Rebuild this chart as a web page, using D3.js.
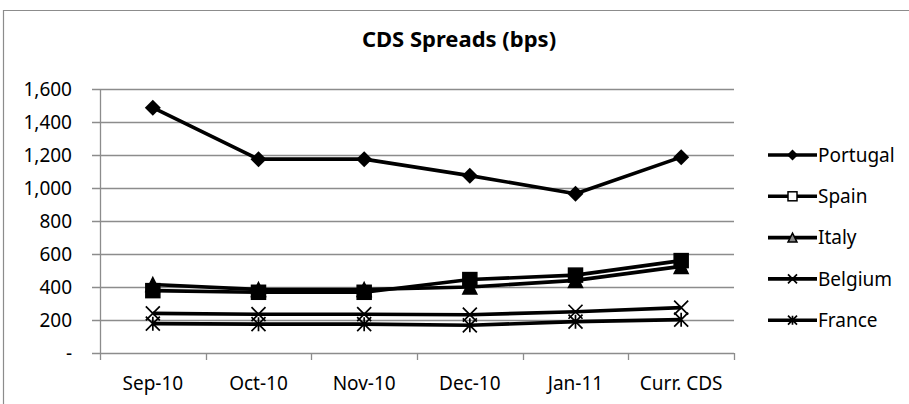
<!DOCTYPE html>
<html>
<head>
<meta charset="utf-8">
<script src="https://cdn.jsdelivr.net/npm/d3@7"></script>
<style>
  body { margin: 0; background: #fff; }
  svg { display: block; font-family: "Noto Sans", sans-serif; }
</style>
</head>
<body>
<svg id="chart" width="909" height="404"></svg>
<script>
// data
var months = ['Sep-10', 'Oct-10', 'Nov-10', 'Dec-10', 'Jan-11', 'Curr. CDS']
var yTicks = [0, 200, 400, 600, 800, 1000, 1200, 1400, 1600]
var countries = ['Portugal', 'Spain', 'Italy', 'Belgium', 'France']
var portugal = [1487, 1175, 1175, 1075, 965, 1187]
var spain = [378, 368, 368, 445, 472, 560]
var italy = [415, 385, 385, 400, 440, 525]
var belgium = [240, 235, 235, 232, 250, 275]
var france = [178, 175, 175, 168, 190, 202]
var seriesValues = [portugal, spain, italy, belgium, france]
var markerKinds = ['diamond', 'square', 'triangle', 'cross', 'star']

const margin = { top: 89, left: 100, right: 175, bottom: 51 }
const fix_width = 909
const fix_height = 404
const plotW = fix_width - margin.left - margin.right
const plotH = fix_height - margin.top - margin.bottom

var grid_color = '#8c8c8c'
var text_color = '#000'
var line_width = 3.6

const svg = d3.select('#chart')

// chart area border
svg.append('path')
  .attr('d', `M3.5,${fix_height} V10.5 H${fix_width}`)
  .attr('fill', 'none')
  .attr('stroke', grid_color)
  .attr('stroke-width', 1.2)

svg.append('text')
  .attr('x', 459)
  .attr('y', 47)
  .attr('text-anchor', 'middle')
  .style('font-size', '22px')
  .style('font-weight', 'bold')
  .attr('fill', text_color)
  .text('CDS Spreads (bps)')

const x = d3.scaleBand().domain(months).range([0, plotW])
const y = d3.scaleLinear().domain([0, 1600]).range([plotH, 0])

const g = svg.append('g').attr('transform', `translate(${margin.left},${margin.top})`)

// gridlines
g.append('g')
  .selectAll('line')
  .data(yTicks)
  .enter()
  .append('line')
  .attr('x1', -8)
  .attr('x2', plotW)
  .attr('y1', d => Math.round(y(d)) + 0.5)
  .attr('y2', d => Math.round(y(d)) + 0.5)
  .attr('stroke', grid_color)
  .attr('stroke-width', 1.3)

// y axis line
g.append('line')
  .attr('x1', 0.5).attr('x2', 0.5)
  .attr('y1', 0).attr('y2', plotH)
  .attr('stroke', grid_color)
  .attr('stroke-width', 1.3)

// x ticks at band edges
var edges = months.map(m => x(m)).concat([plotW])
g.append('g')
  .selectAll('line')
  .data(edges)
  .enter()
  .append('line')
  .attr('x1', d => Math.round(d) + 0.5)
  .attr('x2', d => Math.round(d) + 0.5)
  .attr('y1', plotH)
  .attr('y2', plotH + 7)
  .attr('stroke', grid_color)
  .attr('stroke-width', 1.3)

// y labels
g.append('g')
  .selectAll('text')
  .data(yTicks)
  .enter()
  .append('text')
  .attr('x', -28)
  .attr('y', d => y(d))
  .attr('dy', '0.36em')
  .attr('text-anchor', 'end')
  .style('font-size', '19px')
  .attr('fill', text_color)
  .text(d => d === 0 ? '-' : d3.format(',')(d))

// x labels
g.append('g')
  .selectAll('text')
  .data(months)
  .enter()
  .append('text')
  .attr('x', d => x(d) + x.bandwidth() / 2)
  .attr('y', plotH + 37)
  .attr('text-anchor', 'middle')
  .style('font-size', '19px')
  .attr('fill', text_color)
  .text(d => d)

// marker drawing
var drawMarker = function (sel, kind, s, legend) {
  var h = s / 2
  if (kind === 'diamond') {
    sel.append('path')
      .attr('d', `M0,${-h} L${h},0 L0,${h} L${-h},0 Z`)
      .attr('fill', '#000')
  } else if (kind === 'square') {
    sel.append('rect')
      .attr('x', -h).attr('y', -h).attr('width', s).attr('height', s)
      .attr('fill', legend ? '#fff' : '#000')
      .attr('stroke', '#000')
      .attr('stroke-width', 1.5)
  } else if (kind === 'triangle') {
    sel.append('path')
      .attr('d', `M0,${-h} L${h},${h} L${-h},${h} Z`)
      .attr('fill', legend ? '#888' : '#000')
      .attr('stroke', '#000')
      .attr('stroke-width', 1.5)
  } else if (kind === 'cross') {
    sel.append('path')
      .attr('d', `M${-h},${-h} L${h},${h} M${h},${-h} L${-h},${h}`)
      .attr('stroke', '#000')
      .attr('stroke-width', 1.7)
  } else if (kind === 'star') {
    sel.append('path')
      .attr('d', `M${-h},${-h} L${h},${h} M${h},${-h} L${-h},${h} M0,${-h} V${h}`)
      .attr('stroke', '#000')
      .attr('stroke-width', 1.7)
  }
}

var line = d3.line()
  .x((d, i) => x(months[i]) + x.bandwidth() / 2)
  .y(d => y(d))

seriesValues.forEach(function (vals, si) {
  g.append('path')
    .datum(vals)
    .attr('d', line)
    .attr('fill', 'none')
    .attr('stroke', '#000')
    .attr('stroke-width', line_width)
    .attr('stroke-linejoin', 'round')

  vals.forEach(function (v, i) {
    var mg = g.append('g')
      .attr('transform', `translate(${x(months[i]) + x.bandwidth() / 2},${y(v)})`)
    drawMarker(mg, markerKinds[si], si === 0 ? 16 : 14, false)
  })
})

// legend
var legend = svg.append('g')
  .selectAll('g')
  .data(countries)
  .enter()
  .append('g')
  .attr('transform', (d, i) => `translate(768,${155 + i * 41.3})`)

legend.append('line')
  .attr('x1', 0).attr('x2', 49)
  .attr('y1', 0).attr('y2', 0)
  .attr('stroke', '#000')
  .attr('stroke-width', line_width)

legend.each(function (d, i) {
  var mg = d3.select(this).append('g').attr('transform', 'translate(24.5,0)')
  drawMarker(mg, markerKinds[i], i === 0 ? 11 : 9, true)
})

legend.append('text')
  .attr('x', 50)
  .attr('y', 0)
  .attr('dy', '0.36em')
  .style('font-size', '19px')
  .attr('fill', text_color)
  .text(d => d)
</script>
</body>
</html>
